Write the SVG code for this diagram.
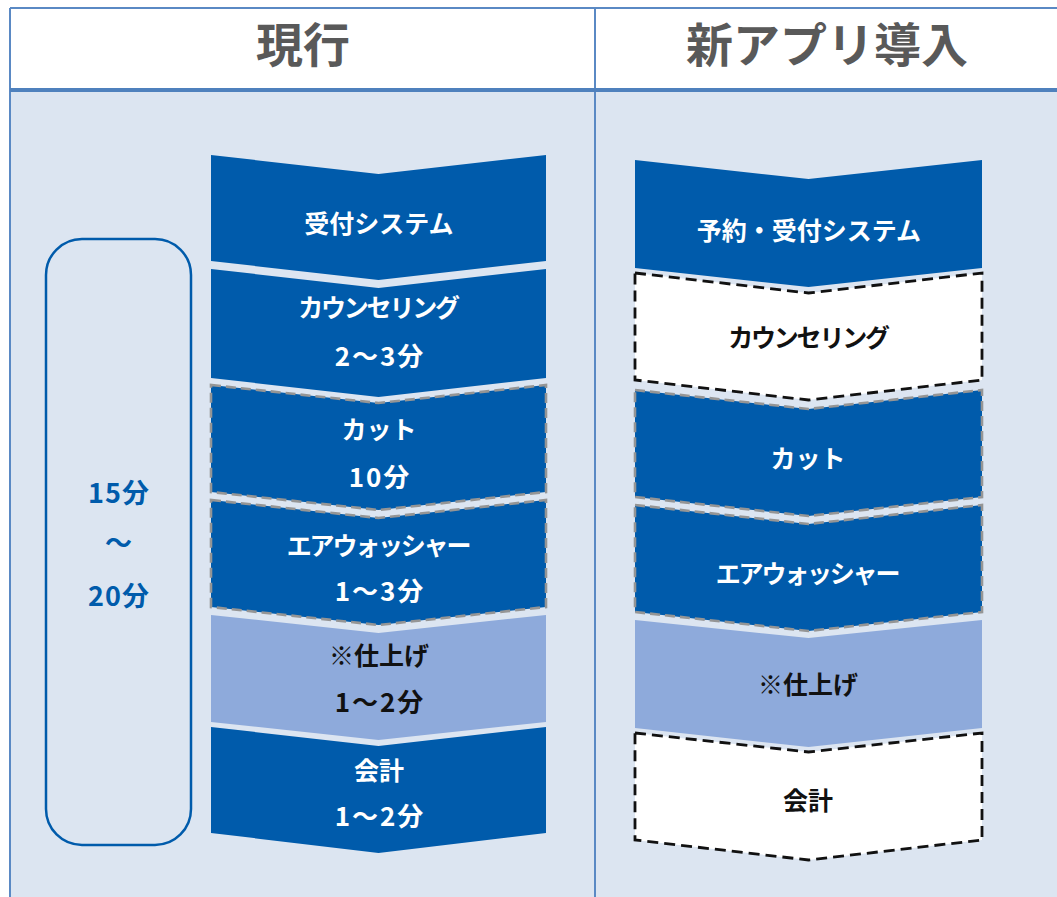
<svg xmlns="http://www.w3.org/2000/svg" width="1057" height="897" viewBox="0 0 1057 897">
<style>
.hd{font-family:"Noto Sans CJK JP","Noto Sans",sans-serif;font-weight:bold;font-size:47px;fill:#595959;text-anchor:middle}
.lb{font-family:"Noto Sans CJK JP","Noto Sans",sans-serif;font-weight:bold;font-size:25px;text-anchor:middle}
.num{font-size:26px;letter-spacing:2px}
.nar{letter-spacing:-2.2px}
.w{fill:#ffffff}
.k{fill:#111111}
.tb{fill:#005bab;font-size:27px;letter-spacing:1px}
.dk{fill:#005bab}
.lt{fill:#8eaadb}
.gd{stroke:#959595;stroke-width:2.6;stroke-dasharray:10 5}
.bd{fill:#ffffff;stroke:#111111;stroke-width:2.8;stroke-dasharray:11 6}
</style>
<rect x="0" y="0" width="1057" height="897" fill="#ffffff"/>
<g id="table">
<rect x="10" y="90" width="1060" height="820" fill="#dce5f1"/>
<rect x="10" y="8" width="1060" height="82" fill="#ffffff"/>
<path d="M10 8 H1057 M10 8 V897 M595 8 V897" stroke="#5a89c4" stroke-width="2" fill="none"/>
<path d="M10 90 H1057" stroke="#4f81bd" stroke-width="4" fill="none"/>
<text class="hd" x="303" y="62">現行</text>
<text class="hd" x="827" y="62">新アプリ導入</text>
</g>
<g id="total">
<rect x="46" y="239" width="145" height="606" rx="36" ry="36" fill="none" stroke="#005bab" stroke-width="2.5"/>
<text class="lb tb" x="119" y="503">15分</text>
<text class="lb tb" x="119" y="553">～</text>
<text class="lb tb" x="119" y="606">20分</text>
</g>
<g id="left-reception">
<path class="dk" d="M211 155 L378.5 174 L546 155 L546 261 L378.5 280 L211 261 Z"/>
<text class="lb w" x="379" y="233">受付システム</text>
</g>
<g id="left-counseling">
<path class="dk" d="M211 269 L378.5 288 L546 269 L546 378 L378.5 397 L211 378 Z"/>
<text class="lb w nar" x="378" y="317">カウンセリング</text>
<text class="lb w num" x="380" y="366">2～3分</text>
</g>
<g id="left-cut">
<path class="dk gd" d="M211 385 L378.5 403 L546 385 L546 492 L378.5 510 L211 492 Z"/>
<text class="lb w" x="379" y="439">カット</text>
<text class="lb w num" x="380" y="487">10分</text>
</g>
<g id="left-airwasher">
<path class="dk gd" d="M211 500 L378.5 518 L546 500 L546 607 L378.5 625 L211 607 Z"/>
<text class="lb w nar" x="378" y="555">エアウォッシャー</text>
<text class="lb w num" x="380" y="601">1～3分</text>
</g>
<g id="left-finish">
<path class="lt" d="M211 615 L378.5 633 L546 615 L546 722 L378.5 740 L211 722 Z"/>
<text class="lb k" x="379" y="665">※仕上げ</text>
<text class="lb k num" x="380" y="712">1～2分</text>
</g>
<g id="left-checkout">
<path class="dk" d="M211 727 L378.5 746 L546 727 L546 833 L378.5 853 L211 833 Z"/>
<text class="lb w" x="379" y="780">会計</text>
<text class="lb w num" x="380" y="826">1～2分</text>
</g>
<g id="right-reception">
<path class="dk" d="M635 160 L808.5 179 L982 160 L982 268 L808.5 287 L635 268 Z"/>
<text class="lb w" x="809" y="240">予約・受付システム</text>
</g>
<g id="right-counseling">
<path class="bd" d="M635 273 L808.5 293 L982 273 L982 380 L808.5 400 L635 380 Z"/>
<text class="lb k nar" x="808" y="347">カウンセリング</text>
</g>
<g id="right-cut">
<path class="dk gd" d="M635 390 L808.5 409 L982 390 L982 497 L808.5 516 L635 497 Z"/>
<text class="lb w" x="808" y="468">カット</text>
</g>
<g id="right-airwasher">
<path class="dk gd" d="M635 505 L808.5 524 L982 505 L982 612 L808.5 631 L635 612 Z"/>
<text class="lb w nar" x="807" y="583">エアウォッシャー</text>
</g>
<g id="right-finish">
<path class="lt" d="M635 620 L808.5 638 L982 620 L982 728 L808.5 747 L635 728 Z"/>
<text class="lb k" x="808" y="694">※仕上げ</text>
</g>
<g id="right-checkout">
<path class="bd" d="M635 733 L808.5 752 L982 733 L982 840 L808.5 860 L635 840 Z"/>
<text class="lb k" x="808" y="810">会計</text>
</g>
<g id="connectors"></g>
</svg>
